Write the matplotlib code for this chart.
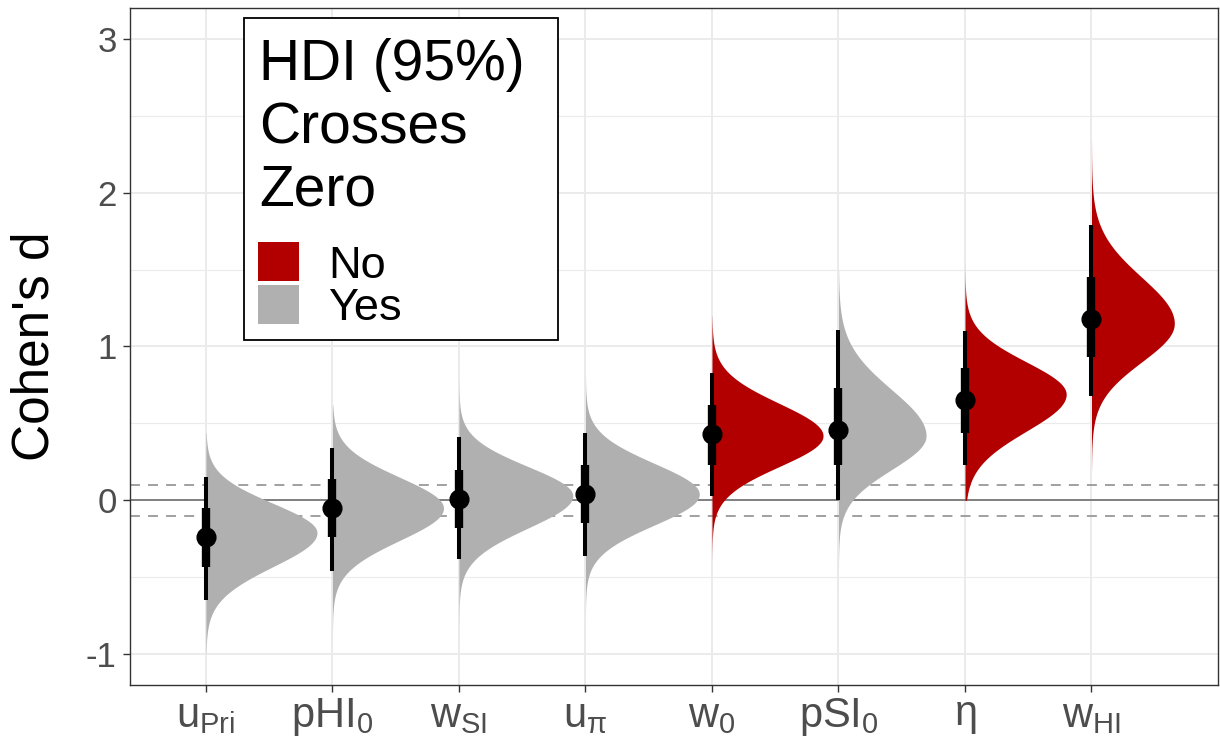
import numpy as np
import matplotlib
matplotlib.use('Agg')
import matplotlib.pyplot as plt
from matplotlib.patches import Rectangle

plt.rcParams['font.family'] = ['Liberation Sans', 'DejaVu Sans']
plt.rcParams['mathtext.fontset'] = 'custom'
plt.rcParams['mathtext.rm'] = 'Liberation Sans'
plt.rcParams['mathtext.it'] = 'Liberation Sans:italic'
plt.rcParams['mathtext.bf'] = 'Liberation Sans:bold'

# ---- data ----
param_labels = [r'$\mathregular{u_{Pri}}$', r'$\mathregular{pHI_0}$', r'$\mathregular{w_{SI}}$',
                r'$\mathregular{u_{π}}$', r'$\mathregular{w_0}$', r'$\mathregular{pSI_0}$',
                r'$\mathregular{η}$', r'$\mathregular{w_{HI}}$']
medians = [-0.24, -0.05, 0.01, 0.04, 0.43, 0.46, 0.65, 1.18]
q66_lo = [-0.43, -0.24, -0.18, -0.15, 0.23, 0.23, 0.44, 0.93]
q66_hi = [-0.05, 0.14, 0.20, 0.23, 0.62, 0.73, 0.86, 1.45]
q95_lo = [-0.65, -0.46, -0.38, -0.36, 0.03, 0.00, 0.23, 0.68]
q95_hi = [0.15, 0.34, 0.41, 0.44, 0.83, 1.11, 1.10, 1.79]
modes = [-0.21, -0.05, 0.03, 0.04, 0.42, 0.42, 0.69, 1.15]
sd_lower = [0.22, 0.21, 0.21, 0.20, 0.20, 0.22, 0.24, 0.25]
sd_upper = [0.19, 0.20, 0.19, 0.20, 0.21, 0.30, 0.21, 0.30]
tail_lo = [-1.0, -0.95, -0.9, -0.9, -0.38, -0.75, 0.0, 0.2]
tail_hi = [0.44, 0.62, 0.78, 0.82, 1.2, 1.5, 1.55, 2.34]
crosses_zero = ['Yes', 'Yes', 'Yes', 'Yes', 'No', 'Yes', 'No', 'No']

legend_title = ['HDI (95%)', 'Crosses', 'Zero']
legend_labels = ['No', 'Yes']
colors = {'No': '#B20000', 'Yes': '#B0B0B0'}

W, H = 1220, 746
fig = plt.figure(figsize=(W / 100, H / 100), dpi=100)
ax = fig.add_axes([130 / W, 1 - 685 / H, (1218 - 130) / W, (685 - 8) / H])

# reference lines
ax.axhline(0, color='#6E6E6E', lw=1.2, zorder=1)
for yv in (-0.1, 0.1):
    ax.axhline(yv, color='#999999', lw=1.3, dashes=(5.5, 4.5), zorder=1)


# slab densities (split normal), normalised across all slabs, scale 0.9
def dens(y, m, s1, s2):
    s = np.where(y < m, s1, s2)
    return 2.0 / (np.sqrt(2 * np.pi) * (s1 + s2)) * np.exp(-0.5 * ((y - m) / s) ** 2)


pmax = max(2.0 / (np.sqrt(2 * np.pi) * (a + b)) for a, b in zip(sd_lower, sd_upper))

xs = np.arange(1, len(param_labels) + 1)
for i, x0 in enumerate(xs):
    y = np.linspace(tail_lo[i], tail_hi[i], 600)
    w = 0.9 * dens(y, modes[i], sd_lower[i], sd_upper[i]) / pmax
    ax.fill_betweenx(y, x0, x0 + w, color=colors[crosses_zero[i]], lw=0, zorder=2)

for i, x0 in enumerate(xs):
    ax.plot([x0, x0], [q95_lo[i], q95_hi[i]], color='black', lw=2.9,
            solid_capstyle='butt', zorder=3)
    ax.plot([x0, x0], [q66_lo[i], q66_hi[i]], color='black', lw=6.0,
            solid_capstyle='butt', zorder=3)
    ax.plot([x0], [medians[i]], marker='o', ms=13.5, color='black', zorder=4)

ax.set_xlim(0.4, 9.0)
ax.set_ylim(-1.2, 3.2)
ax.set_xticks(xs)
ax.set_xticklabels(param_labels)
ax.set_yticks([-1, 0, 1, 2, 3])
ax.set_yticklabels(['-1', '0', '1', '2', '3'])
ax.set_yticks([-0.5, 0.5, 1.5, 2.5], minor=True)
ax.grid(True, which='major', color='#EBEBEB', lw=1.4, zorder=0)
ax.grid(True, which='minor', axis='y', color='#EBEBEB', lw=0.8, zorder=0)
ax.set_axisbelow(True)
ax.tick_params(axis='y', which='minor', length=0)
ax.tick_params(axis='both', which='major', length=5.0, width=1.0, color='#333333',
               labelcolor='#4D4D4D', pad=4.5)
ax.tick_params(axis='y', labelsize=25)
ax.tick_params(axis='x', labelsize=30, pad=3)
for sp in ax.spines.values():
    sp.set_color('#333333')
    sp.set_linewidth(1.0)
ax.set_ylabel("Cohen's d", fontsize=37, color='black', labelpad=19)


# legend (ggplot-style, inside the panel, top-left)
def fx(px):
    return px / W


def fy(py):
    return 1 - py / H


fig.patches.append(Rectangle((fx(244), fy(340)), fx(558) - fx(244), fy(18) - fy(340),
                             transform=fig.transFigure, facecolor='white',
                             edgecolor='black', lw=1.3, zorder=20))
for line, base in zip(legend_title, [80, 143, 205]):
    fig.text(fx(259), fy(base), line, fontsize=41, va='baseline', ha='left',
             color='black', zorder=21)
key_tops = [242, 285]
text_base = [278, 320]
for lab, kt, tb in zip(legend_labels, key_tops, text_base):
    fig.patches.append(Rectangle((fx(258), fy(kt + 39)), fx(299) - fx(258), fy(kt) - fy(kt + 39),
                                 transform=fig.transFigure, facecolor=colors[lab],
                                 edgecolor='none', zorder=21))
    fig.text(fx(328), fy(tb), lab, fontsize=32.5, va='baseline', ha='left',
             color='black', zorder=21)

fig.savefig('out.png', dpi=100)
